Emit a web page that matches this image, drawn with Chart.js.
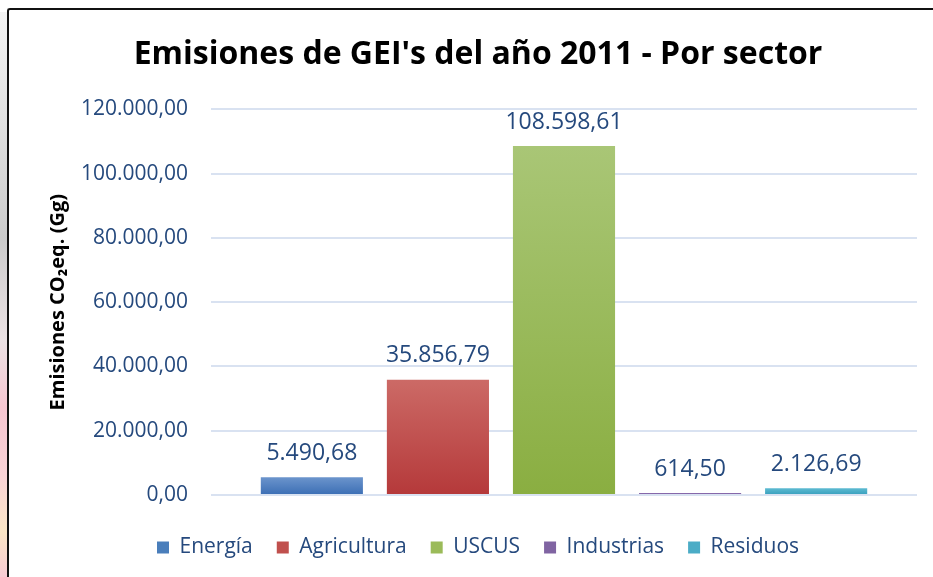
<!DOCTYPE html>
<html>
<head>
<meta charset="utf-8">
<script src="https://cdn.jsdelivr.net/npm/chart.js@4.4.0/dist/chart.umd.min.js"></script>
<style>
    html, body { margin: 0; padding: 0; background: #fff; }
    #wrap { position: relative; width: 933px; height: 577px; overflow: hidden; background: #fff; }
    #strip {
        position: absolute; left: 0; top: 12px; width: 8px; height: 565px;
        background: linear-gradient(to bottom, #f4f4f4 0%, #e0e0e0 20%, #cbcbcb 40%, #ebe2e4 58%, #f6c6d1 70%, #f9d3d6 82%, #fbe6c6 92%, #f8cbd4 100%);
    }
    #frame {
        position: absolute; left: 7px; top: 8px; width: 940px; height: 590px;
        border-top: 2px solid #111; border-left: 2px solid #111; border-top-left-radius: 3px;
    }
    canvas { position: absolute; left: 0; top: 0; }
</style>
</head>
<body>
<div id="wrap">
    <div id="strip"></div>
    <div id="frame"></div>
    <canvas id="gei-chart" width="933" height="577"></canvas>
</div>
<script>
// ===== DATOS =====

const sectors = ['Energía', 'Agricultura', 'USCUS', 'Industrias', 'Residuos'];
const emissions = [5490.68, 35856.79, 108598.61, 614.50, 2126.69];
const yMin = 0;
const yMax = 120000;
const yStep = 20000;

// ===== ESTILOS =====

const legendColors = ['#4a7ebb', '#c0504d', '#9bbb59', '#8064a2', '#4bacc6'];
const barTopColors = ['#6b94cc', '#cc6a66', '#a9c676', '#8a6cae', '#5dbbd2'];
const barBottomColors = ['#3b6eb4', '#b5393a', '#8aae41', '#7a5c9f', '#379ebc'];
const textBlue = '#25497d';
const fontFamily = '"Open Sans", "Liberation Sans", sans-serif';

const fmt = (v) => v.toLocaleString('de-DE', { minimumFractionDigits: 2, maximumFractionDigits: 2 });

// gradiente vertical por barra (claro arriba, oscuro abajo)
const barGradient = (c) => {
    const { chart, dataIndex } = c;
    if (!chart.chartArea) return legendColors[dataIndex];
    const yScale = chart.scales.y;
    const top = yScale.getPixelForValue(emissions[dataIndex]);
    const bottom = yScale.getPixelForValue(0);
    const g = chart.ctx.createLinearGradient(0, top, 0, bottom);
    g.addColorStop(0, barTopColors[dataIndex]);
    g.addColorStop(1, barBottomColors[dataIndex]);
    return g;
};

// etiquetas de valor sobre cada barra
const valueLabels = {
    id: 'valueLabels',
    afterDatasetsDraw(chart) {
        const ctx = chart.ctx;
        const meta = chart.getDatasetMeta(0);
        ctx.save();
        ctx.font = `23px ${fontFamily}`;
        ctx.fillStyle = textBlue;
        ctx.textAlign = 'center';
        ctx.textBaseline = 'middle';
        meta.data.forEach((bar, i) => {
            ctx.fillText(fmt(emissions[i]), bar.x, bar.y - 24);
        });
        ctx.restore();
    }
};

// ===== GRÁFICO =====

new Chart(document.getElementById('gei-chart'), {
    type: 'bar',
    data: {
        datasets: [{
            data: emissions.map((v, i) => ({ x: i, y: v })),
            backgroundColor: barGradient,
            borderWidth: 0,
            categoryPercentage: 1,
            barPercentage: 0.81
        }]
    },
    options: {
        responsive: false,
        animation: false,
        layout: { padding: { left: 39, right: 16, top: 0, bottom: 9 } },
        scales: {
            x: {
                type: 'linear',
                min: -0.8,
                max: 4.8,
                offset: false,
                ticks: { display: false },
                grid: { display: false },
                border: { display: false },
                // solo un tick por sector, así el ancho de barra sale del espaciado entre sectores
                afterBuildTicks: (s) => { s.ticks = sectors.map((_, i) => ({ value: i })); },
                afterFit: (s) => { s.height = 18; }
            },
            y: {
                min: yMin,
                max: yMax,
                ticks: {
                    stepSize: yStep,
                    padding: 23,
                    color: textBlue,
                    font: { family: fontFamily, size: 21 },
                    callback: (v) => fmt(v)
                },
                grid: { color: '#d9e2f1', lineWidth: 2, drawTicks: false },
                border: { display: false },
                title: {
                    display: true,
                    text: 'Emisiones CO₂eq. (Gg)',
                    color: '#000',
                    font: { family: fontFamily, size: 20, weight: 'bold' },
                    padding: { top: 7, bottom: 0 }
                },
                afterFit: (s) => { s.width = 172; }
            }
        },
        plugins: {
            title: {
                display: true,
                text: "Emisiones de GEI's del año 2011 - Por sector",
                color: '#000',
                font: { family: fontFamily, size: 32, weight: 'bold' },
                padding: { top: 36, bottom: 35 }
            },
            legend: {
                position: 'bottom',
                labels: {
                    color: textBlue,
                    font: { family: fontFamily, size: 21 },
                    boxWidth: 12,
                    boxHeight: 12,
                    padding: 24,
                    generateLabels: () => sectors.map((s, i) => ({
                        text: s,
                        fillStyle: legendColors[i],
                        strokeStyle: legendColors[i],
                        lineWidth: 0,
                        fontColor: textBlue,
                        hidden: false,
                        index: i,
                        datasetIndex: 0
                    }))
                }
            },
            tooltip: { enabled: false }
        }
    },
    plugins: [valueLabels]
});
</script>
</body>
</html>
